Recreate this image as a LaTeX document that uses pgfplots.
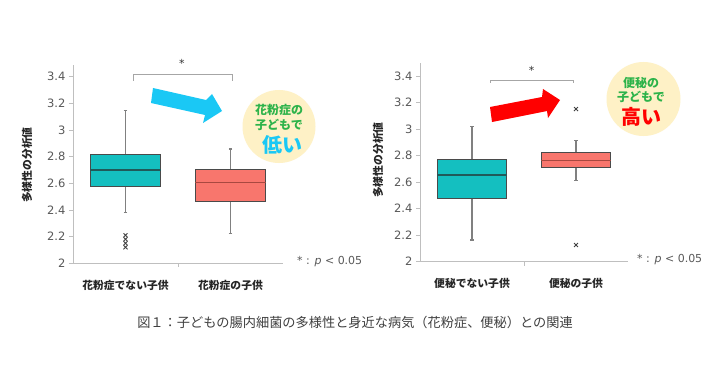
\documentclass[border=0pt]{standalone}
\usepackage{pgfplots}
\pgfplotsset{compat=1.18}
\usepgfplotslibrary{statistics}
\usepackage{fontspec}
\setmainfont{DejaVu Sans}
\newfontfamily\jp{Noto Sans CJK JP}
\definecolor{tealbox}{HTML}{14BFC0}
\definecolor{salmonbox}{HTML}{F8766D}
\definecolor{boxborder}{HTML}{4A4A4A}
\definecolor{tealmed}{HTML}{205A5A}
\definecolor{salmed}{HTML}{A84840}
\definecolor{whisk}{HTML}{808080}
\definecolor{axisgray}{HTML}{BFBFBF}
\definecolor{labelgray}{HTML}{595959}
\definecolor{cream}{HTML}{FEF1C6}
\definecolor{txtgreen}{HTML}{2DB34A}
\definecolor{arrowcyan}{HTML}{1AC8F5}
\definecolor{bracket}{HTML}{A6A6A6}
\pgfplotsset{
  mybox/.style={
    scale only axis, clip=false,
    xmin=0.5, xmax=2.5, ymin=2,
    axis x line=bottom, axis y line=left,
    axis line style={-, draw=axisgray, line width=0.9pt},
    xtick={1,2}, xtick style={draw=none},
    ytick={2,2.2,2.4,2.6,2.8,3,3.2,3.4},
    yticklabels={2,2.2,2.4,2.6,2.8,3,3.2,3.4},
    ytick style={draw=axisgray, line width=0.8pt},
    tick align=outside, major tick length=4pt,
    yticklabel style={font=\fontsize{11.5}{12}\selectfont, text=labelgray},
    xticklabel style={font=\jp\bfseries\fontsize{10.8}{12}\selectfont, text=black!85, yshift=-9pt},
    boxplot/draw direction=y,
    boxplot/every whisker/.style={draw=whisk, line width=1.4pt},
    boxplot/every box/.style={draw=boxborder, line width=0.8pt},
  },
  tealstyle/.style={fill=tealbox, draw=boxborder, boxplot/every median/.style={draw=tealmed, line width=1.3pt}},
  salstyle/.style={fill=salmonbox, draw=boxborder, boxplot/every median/.style={draw=salmed, line width=1.3pt}},
  outl/.style={mark=x, mark size=2.8pt, mark options={draw=black!75, line width=0.8pt, solid}},
}
\begin{document}
\begin{tikzpicture}[x=1pt,y=1pt]
\path[use as bounding box, fill=white] (0,0) rectangle (715,365);

% ---------- left chart ----------
\begin{axis}[mybox, at={(73pt,101.7pt)}, anchor=south west,
  width=210pt, height=198.3pt, ymax=3.487,
  xticklabels={花粉症でない子供,花粉症の子供}]
\addplot[tealstyle, outl, boxplot prepared={draw position=1,
  lower whisker=2.379, lower quartile=2.574, median=2.700,
  upper quartile=2.817, upper whisker=3.144, box extend=0.67, whisker extend=0.03}]
  table[row sep=\\, y index=0] {data\\2.12\\2.15\\2.18\\2.21\\};
\addplot[salstyle, outl, boxplot prepared={draw position=2,
  lower whisker=2.225, lower quartile=2.467, median=2.607,
  upper quartile=2.705, upper whisker=2.857, box extend=0.67, whisker extend=0.03}]
  coordinates {};
\draw[axisgray, line width=0.8pt] (axis cs:1.5,2) -- ++(0pt,-4pt);
\draw[bracket, line width=0.8pt] (axis cs:1.071,3.37) |- (axis cs:2.014,3.42) -- (axis cs:2.014,3.37);
\node[font=\fontsize{11}{12}\selectfont, text=black!80] at (axis cs:1.538,3.50) {*};
\end{axis}

% ---------- right chart ----------
\begin{axis}[mybox, at={(420pt,103.3pt)}, anchor=south west,
  width=208pt, height=198.4pt, ymax=3.496,
  xticklabels={便秘でない子供,便秘の子供}]
\addplot[tealstyle, outl, boxplot prepared={draw position=1,
  lower whisker=2.164, lower quartile=2.478, median=2.654,
  upper quartile=2.774, upper whisker=3.018, box extend=0.67, whisker extend=0.03}]
  coordinates {};
\addplot[salstyle, outl, boxplot prepared={draw position=2,
  lower whisker=2.611, lower quartile=2.709, median=2.761,
  upper quartile=2.825, upper whisker=2.912, box extend=0.67, whisker extend=0.03}]
  table[row sep=\\, y index=0] {data\\3.151\\2.126\\};
\draw[axisgray, line width=0.8pt] (axis cs:1.5,2) -- ++(0pt,-4pt);
\draw[bracket, line width=0.8pt] (axis cs:1.173,3.35) |- (axis cs:1.971,3.37) -- (axis cs:1.971,3.35);
\node[font=\fontsize{11}{12}\selectfont, text=black!80] at (axis cs:1.574,3.44) {*};
\end{axis}

% y labels
\node[rotate=90, font=\jp\bfseries\fontsize{10.8}{12}\selectfont, text=black!85] at (27,200) {多様性の分析値};
\node[rotate=90, font=\jp\bfseries\fontsize{10.8}{12}\selectfont, text=black!85] at (378,205) {多様性の分析値};

% p-value notes
\node[anchor=west, font=\fontsize{11}{12}\selectfont, text=labelgray, inner sep=0pt] at (297,103.3) {* : \textit{p} < 0.05};
\node[anchor=west, font=\fontsize{11}{12}\selectfont, text=labelgray, inner sep=0pt] at (637,105.7) {* : \textit{p} < 0.05};

% arrows
\fill[arrowcyan] (153,277) -- (206,265) -- (212,271) -- (222,254) -- (203,242) -- (205,250) -- (151,262) -- cycle;
\fill[red] (490,258) -- (542,268) -- (543,276) -- (560,265) -- (548,247) -- (547,254) -- (492,243) -- cycle;

% circles
\fill[cream] (279,238.5) circle (36.5);
\node[font=\jp\bfseries\fontsize{12}{13}\selectfont, text=txtgreen] at (279,255) {花粉症の};
\node[font=\jp\bfseries\fontsize{12}{13}\selectfont, text=txtgreen] at (279,240) {子どもで};
\node[font=\jp\bfseries\fontsize{20}{22}\selectfont, text=arrowcyan] at (282,220) {低い};

\fill[cream] (643.5,266) circle (37);
\node[font=\jp\bfseries\fontsize{12}{13}\selectfont, text=txtgreen] at (641,282) {便秘の};
\node[font=\jp\bfseries\fontsize{12}{13}\selectfont, text=txtgreen] at (641,268) {子どもで};
\node[font=\jp\bfseries\fontsize{20}{22}\selectfont, text=red] at (641,248) {高い};

% caption
\node[font=\jp\fontsize{13.2}{15}\selectfont, text=black!75] at (355,43) {図１：子どもの腸内細菌の多様性と身近な病気（花粉症、便秘）との関連};
\end{tikzpicture}
\end{document}
